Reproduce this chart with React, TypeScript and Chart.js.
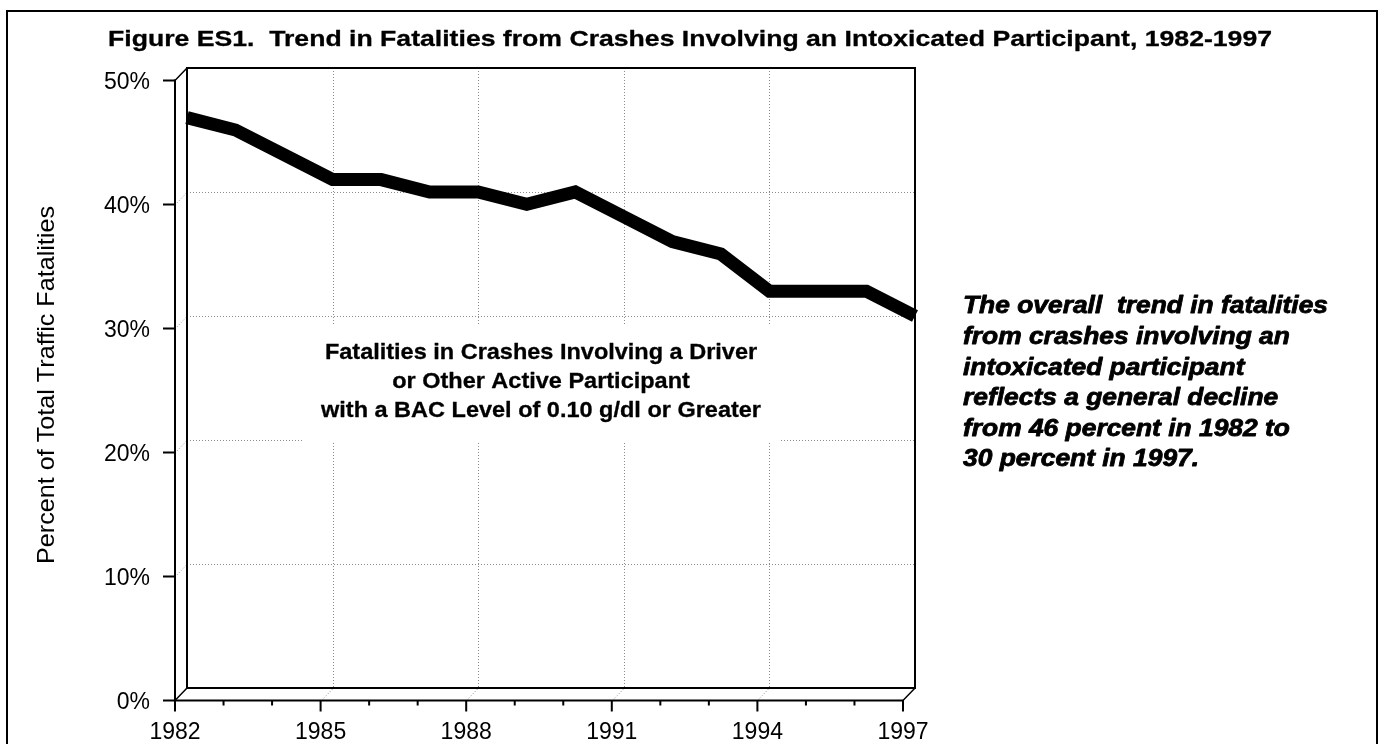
import React, { useEffect, useRef } from "react";
import { Chart, registerables } from "chart.js";

Chart.register(...registerables);

// ---- data ----
const years = [1982, 1983, 1984, 1985, 1986, 1987, 1988, 1989, 1990, 1991, 1992, 1993, 1994, 1995, 1996, 1997];
const percentIntoxicated = [46, 45, 43, 41, 41, 40, 40, 39, 40, 38, 36, 35, 32, 32, 32, 30];
const yTickValues = [0, 10, 20, 30, 40, 50];
const yTickLabels = ["0%", "10%", "20%", "30%", "40%", "50%"];
const yGridValues = [10, 20, 30, 40];
const xTickYears = [1982, 1985, 1988, 1991, 1994, 1997];
const xTickLabels = ["1982", "1985", "1988", "1991", "1994", "1997"];
const xGridYears = [1985, 1988, 1991, 1994];

const titleText = "Figure ES1.  Trend in Fatalities from Crashes Involving an Intoxicated Participant, 1982-1997";
const yAxisTitle = "Percent of Total Traffic Fatalities";
const insideNote = [
  "Fatalities in Crashes Involving a Driver",
  "or Other Active Participant",
  "with a BAC Level of 0.10 g/dl or Greater",
];
const sideNote = [
  "The overall  trend in fatalities",
  "from crashes involving an",
  "intoxicated participant",
  "reflects a general decline",
  "from 46 percent in 1982 to",
  "30 percent in 1997.",
];

const FONT = '"Liberation Sans", Arial, Helvetica, sans-serif';
const DX = -12; // front plane offset from back wall
const DY = 12.5;

function stretched(
  ctx: CanvasRenderingContext2D,
  text: string,
  x: number,
  y: number,
  align: CanvasTextAlign,
  sx: number,
  strokeW = 0
) {
  ctx.save();
  ctx.translate(x, y);
  ctx.scale(sx, 1);
  ctx.textAlign = align;
  ctx.fillText(text, 0, 0);
  if (strokeW > 0) {
    ctx.lineWidth = strokeW;
    ctx.strokeStyle = "#000";
    ctx.lineJoin = "round";
    ctx.strokeText(text, 0, 0);
  }
  ctx.restore();
}

const framePlugin = {
  id: "frame3d",
  beforeDatasetsDraw(chart: any) {
    const { ctx, chartArea, scales } = chart;
    const { left, right, top, bottom } = chartArea;
    const xs = scales.x;
    const ys = scales.y;
    ctx.save();
    ctx.strokeStyle = "#8c8c8c";
    ctx.lineWidth = 1;
    ctx.setLineDash([1, 2]);
    for (const v of yGridValues) {
      const py = Math.round(ys.getPixelForValue(v)) + 0.5;
      ctx.beginPath();
      ctx.moveTo(left, py);
      ctx.lineTo(right, py);
      ctx.moveTo(left + DX, py + DY);
      ctx.lineTo(left, py);
      ctx.stroke();
    }
    for (const yr of xGridYears) {
      const px = Math.round(xs.getPixelForValue(yr)) + 0.5;
      ctx.beginPath();
      ctx.moveTo(px, top);
      ctx.lineTo(px, bottom);
      ctx.moveTo(px + DX, bottom + DY);
      ctx.lineTo(px, bottom);
      ctx.stroke();
    }
    ctx.setLineDash([]);
    // white label box behind the inside note
    ctx.fillStyle = "#ffffff";
    ctx.fillRect(302, 325, 478, 118);
    ctx.restore();
  },
  afterDatasetsDraw(chart: any) {
    const { ctx, chartArea, scales } = chart;
    const { left, right, top, bottom } = chartArea;
    const xs = scales.x;
    const ys = scales.y;
    ctx.save();
    ctx.strokeStyle = "#000";
    ctx.lineWidth = 2;
    ctx.lineCap = "square";
    // back wall
    ctx.beginPath();
    ctx.moveTo(left, bottom);
    ctx.lineTo(left, top);
    ctx.lineTo(right, top);
    ctx.lineTo(right, bottom);
    ctx.lineTo(left, bottom);
    ctx.stroke();
    // front axes
    ctx.beginPath();
    ctx.moveTo(left + DX, top + DY);
    ctx.lineTo(left + DX, bottom + DY);
    ctx.lineTo(right + DX, bottom + DY);
    ctx.stroke();
    // corner diagonals
    ctx.lineWidth = 1.5;
    ctx.beginPath();
    ctx.moveTo(left + DX, top + DY);
    ctx.lineTo(left, top);
    ctx.moveTo(left + DX, bottom + DY);
    ctx.lineTo(left, bottom);
    ctx.moveTo(right + DX, bottom + DY);
    ctx.lineTo(right, bottom);
    ctx.stroke();
    // y ticks
    ctx.lineWidth = 2;
    ctx.lineCap = "butt";
    ctx.beginPath();
    for (const v of yTickValues) {
      const py = ys.getPixelForValue(v) + DY;
      ctx.moveTo(left + DX - 12, py);
      ctx.lineTo(left + DX, py);
    }
    // x ticks (major + yearly minor)
    for (const yr of years) {
      const px = xs.getPixelForValue(yr) + DX;
      const major = xTickYears.includes(yr);
      ctx.moveTo(px, bottom + DY);
      ctx.lineTo(px, bottom + DY + (major ? 11 : 5));
    }
    ctx.stroke();

    // tick labels
    ctx.fillStyle = "#000";
    ctx.font = `23px ${FONT}`;
    ctx.textBaseline = "middle";
    ctx.textAlign = "right";
    yTickValues.forEach((v, i) => {
      const py = ys.getPixelForValue(v) + DY;
      ctx.fillText(yTickLabels[i], left + DX - 25, py + 2);
    });
    ctx.textAlign = "center";
    xTickYears.forEach((yr, i) => {
      const px = xs.getPixelForValue(yr) + DX;
      ctx.fillText(xTickLabels[i], px, 733);
    });

    // y axis title (rotated)
    ctx.save();
    ctx.font = `24px ${FONT}`;
    const wy = ctx.measureText(yAxisTitle).width;
    ctx.translate(47, 385);
    ctx.rotate(-Math.PI / 2);
    ctx.scale(358 / wy, 1);
    ctx.textAlign = "center";
    ctx.textBaseline = "middle";
    ctx.fillText(yAxisTitle, 0, 0);
    ctx.restore();

    // title
    ctx.font = `bold 22px ${FONT}`;
    ctx.textBaseline = "middle";
    const wt = ctx.measureText(titleText).width;
    stretched(ctx, titleText, 690, 40, "center", 1164 / wt, 0.3);

    // inside note
    ctx.font = `bold 22px ${FONT}`;
    const wi = ctx.measureText(insideNote[2]).width;
    const si = 440 / wi;
    insideNote.forEach((line, i) => stretched(ctx, line, 541, 353 + i * 29, "center", si, 0.3));

    // side note
    ctx.font = `italic bold 23px ${FONT}`;
    const ws = ctx.measureText(sideNote[0]).width;
    const ss = 365 / ws;
    sideNote.forEach((line, i) => stretched(ctx, line, 963, 307 + i * 30.6, "left", ss, 0.8));

    // outer border
    ctx.lineWidth = 2;
    ctx.strokeStyle = "#000";
    ctx.strokeRect(7, 11, 1370, 760);
    ctx.restore();
  },
};

export default function App() {
  const ref = useRef<HTMLCanvasElement | null>(null);
  useEffect(() => {
    if (!ref.current) return;
    const chart = new Chart(ref.current, {
      type: "line",
      data: {
        datasets: [
          {
            label: "Fatalities in crashes with intoxicated participant",
            data: years.map((yr, i) => ({ x: yr, y: percentIntoxicated[i] })),
            borderColor: "#000",
            backgroundColor: "#000",
            borderWidth: 13,
            pointRadius: 0,
            tension: 0,
            borderJoinStyle: "miter",
            borderCapStyle: "butt",
            clip: false as any,
          },
        ],
      },
      options: {
        responsive: false,
        animation: false,
        devicePixelRatio: 1,
        events: [],
        layout: { padding: { left: 187, top: 68, right: 1382 - 915, bottom: 744 - 688 } },
        scales: {
          x: { type: "linear", min: 1982, max: 1997, display: false },
          y: { type: "linear", min: 0, max: 50, display: false },
        },
        plugins: {
          legend: { display: false },
          tooltip: { enabled: false },
          title: { display: false },
        },
      },
      plugins: [framePlugin],
    });
    return () => chart.destroy();
  }, []);
  return (
    <div style={{ position: "absolute", left: 0, top: 0, width: 1382, height: 744, background: "#fff" }}>
      <canvas ref={ref} width={1382} height={744} style={{ display: "block", width: 1382, height: 744 }} />
    </div>
  );
}
